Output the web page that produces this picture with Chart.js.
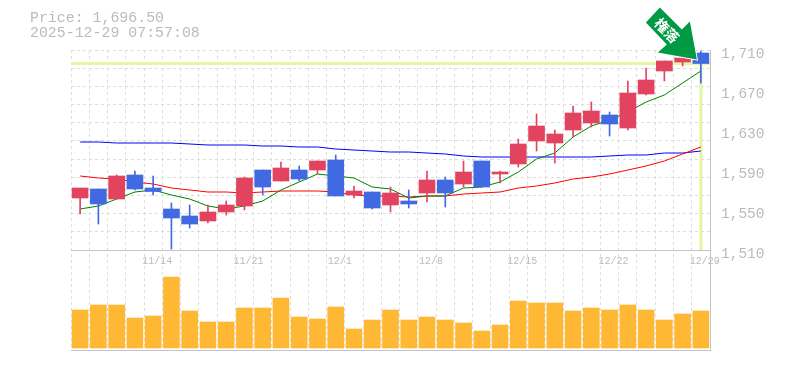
<!DOCTYPE html>
<html>
<head>
<meta charset="utf-8">
<script src="https://cdn.jsdelivr.net/npm/chart.js@4"></script>
<style>
    body { margin: 0; background: #fff; }
    #wrapper { position: relative; width: 785px; height: 370px; }
    #info { position: absolute; left: 30px; top: 11px; font: 14.9px/15px "Liberation Mono", monospace; color: #bbb; }
</style>
</head>
<body>
<div id="wrapper">
    <canvas id="myChart" width="785" height="370"></canvas>
    <div id="info">Price: 1,696.50<br>2025-12-29 07:57:08</div>
</div>
<script>
"use strict";

const categories = ["11/10", "11/11", "11/12", "11/13", "11/14", "11/17", "11/18", "11/19", "11/20", "11/21",
    "11/25", "11/26", "11/27", "11/28", "12/1", "12/2", "12/3", "12/4", "12/5", "12/8",
    "12/9", "12/10", "12/11", "12/12", "12/15", "12/16", "12/17", "12/18", "12/19", "12/22",
    "12/23", "12/24", "12/25", "12/26", "12/29"];
const dateTicks = ["11/14", "11/21", "12/1", "12/8", "12/15", "12/22", "12/29"];
const priceTicks = [1710, 1670, 1630, 1590, 1550, 1510];

const opens = [1562, 1571, 1561, 1585, 1572, 1551, 1544, 1539, 1548, 1554,
    1590, 1579, 1590, 1590, 1600, 1565, 1568, 1555, 1559, 1567,
    1580, 1576, 1599, 1586, 1596, 1619, 1617, 1630, 1637, 1645,
    1632, 1666, 1689, 1698, 1707];
const closes = [1572, 1556, 1584, 1571, 1568.5, 1542, 1536, 1548, 1555, 1582,
    1573, 1592, 1581, 1599, 1564, 1569, 1552, 1567, 1556, 1580,
    1567, 1588, 1573, 1588, 1616, 1634, 1626, 1647, 1649, 1636,
    1667, 1680, 1699, 1702, 1696.5];
const highs = [1572, 1571, 1585, 1589, 1584, 1557, 1555, 1555, 1559, 1583,
    1590, 1598, 1594, 1599, 1605, 1574, 1568, 1573, 1570, 1589,
    1583, 1599, 1599, 1589, 1621, 1646, 1630, 1654, 1658, 1648,
    1679, 1692, 1699, 1702, 1709];
const lows = [1546, 1536, 1561, 1570, 1565, 1511, 1532, 1537, 1545, 1550,
    1565, 1579, 1579, 1586, 1564, 1562, 1551, 1548, 1552, 1558,
    1553, 1573, 1573, 1577, 1593, 1609, 1597, 1623, 1633, 1624,
    1630, 1665, 1679, 1694, 1677];

const maShort = [1551, 1554, 1561, 1568, 1570, 1565, 1561, 1554, 1551, 1554,
    1559, 1570, 1578, 1586, 1584, 1582, 1573, 1571, 1562, 1564,
    1564, 1572, 1573, 1578, 1588, 1601, 1607, 1623, 1634, 1640,
    1648, 1658, 1665, 1677, 1689];
const maMiddle = [1584, 1582, 1581, 1578, 1576, 1572, 1570, 1568, 1568, 1567,
    1568, 1569, 1569, 1569, 1568, 1565, 1564, 1564, 1563, 1564,
    1564, 1566, 1567, 1568, 1572, 1574, 1577, 1581, 1583, 1586,
    1590, 1594, 1599, 1606, 1613];
const maLong = [1618, 1618, 1617, 1617, 1617, 1617, 1616, 1615, 1615, 1615,
    1614, 1614, 1613, 1613, 1611, 1610, 1609, 1608, 1608, 1607,
    1606, 1604, 1603, 1603, 1603, 1603, 1603, 1603, 1603, 1604,
    1605, 1605, 1607, 1607, 1609];

const volumes = [38, 43, 43, 30, 32, 71, 37, 26, 26, 40,
    40, 50, 31, 29, 41, 19, 28, 38, 28, 31,
    28, 25, 17, 23, 47, 45, 45, 37, 40, 38,
    43, 38, 28, 34, 37];

const currentPrice = 1696.5;
const arrowText = "権落";

const UP_COLOR = "#e24460";
const DOWN_COLOR = "#4169e1";
const TEXT_COLOR = "#bbbbbb";
const AXIS_COLOR = "#c4c4c4";
const GRID_COLOR = "#dddddd";
const MARK_COLOR = "#e4f5a4";

let candleColors = opens.map(function (open, i) {
    return closes[i] >= open ? UP_COLOR : DOWN_COLOR;
});

// 11 dashed rows between top and bottom, they do not line up with the price labels
let gridValues = [];
for (let i = 0; i <= 11; i++) {
    gridValues.push(1710 - i * 200 / 11);
}

let currentPriceLines = {
    id: "currentPriceLines",
    beforeDatasetsDraw: function (chart) {
        let ctx = chart.ctx;
        let area = chart.chartArea;
        let y = chart.scales.y.getPixelForValue(currentPrice);
        let x = chart.scales.x.getPixelForValue(categories.length - 1);
        ctx.save();
        ctx.strokeStyle = MARK_COLOR;
        ctx.lineWidth = 3;
        ctx.beginPath();
        ctx.moveTo(area.left, y);
        ctx.lineTo(area.right, y);
        ctx.moveTo(x, y);
        ctx.lineTo(x, chart.scales.y.bottom);
        ctx.stroke();
        ctx.restore();
    }
};

let arrowMark = {
    id: "arrowMark",
    afterDatasetsDraw: function (chart) {
        let ctx = chart.ctx;
        let tipX = chart.scales.x.getPixelForValue(categories.length - 1) - 4;
        let tipY = chart.scales.y.getPixelForValue(currentPrice) - 4;
        let shape = [[-37, -52], [-51, -37], [-30, -15], [-39, -7], [0, 0], [-7, -38], [-15, -30]];
        ctx.save();
        ctx.translate(tipX, tipY);
        ctx.beginPath();
        for (let i = 0; i < shape.length; i++) {
            ctx.lineTo(shape[i][0], shape[i][1]);
        }
        ctx.closePath();
        ctx.lineWidth = 2;
        ctx.strokeStyle = "#ffffff";
        ctx.stroke();
        ctx.fillStyle = "#009944";
        ctx.fill();
        ctx.translate(-30, -29);
        ctx.rotate(Math.PI / 4);
        ctx.font = "bold 14px 'Noto Sans CJK JP'";
        ctx.fillStyle = "#ffffff";
        ctx.textAlign = "center";
        ctx.textBaseline = "middle";
        ctx.fillText(arrowText, 0, 0);
        ctx.restore();
    }
};

let ctx = document.getElementById("myChart").getContext("2d");
let myChart = new Chart(ctx, {
    type: "bar",
    plugins: [currentPriceLines, arrowMark],
    data: {
        labels: categories,
        datasets: [
            { type: "line", data: maLong, borderColor: "#0000ff", borderWidth: 1, pointRadius: 0, yAxisID: "y", order: 5 },
            { type: "line", data: maMiddle, borderColor: "#ff0000", borderWidth: 1, pointRadius: 0, yAxisID: "y", order: 4 },
            { type: "line", data: maShort, borderColor: "#008000", borderWidth: 1, pointRadius: 0, yAxisID: "y", order: 3 },
            {
                data: lows.map(function (low, i) { return [low, highs[i]]; }),
                backgroundColor: candleColors, barThickness: 1, grouped: false, yAxisID: "y", order: 2
            },
            {
                data: opens.map(function (open, i) { return [open, closes[i]]; }),
                backgroundColor: candleColors, barThickness: 16, grouped: false, yAxisID: "y", order: 1
            },
            { data: volumes, backgroundColor: "#ffb833", barThickness: 16, grouped: false, yAxisID: "yVol", order: 1 }
        ]
    },
    options: {
        responsive: false,
        animation: false,
        devicePixelRatio: 1,
        layout: { padding: { left: 71, right: 0, top: 50, bottom: 20 } },
        plugins: { legend: { display: false }, tooltip: { enabled: false }, title: { display: false } },
        scales: {
            x: {
                position: { y: 1510 },
                grid: { color: GRID_COLOR, offset: true, drawTicks: false },
                border: { color: AXIS_COLOR, dash: [3, 3] },
                ticks: {
                    autoSkip: false,
                    maxRotation: 0,
                    padding: 5,
                    labelOffset: 4,
                    color: TEXT_COLOR,
                    font: { family: "'Liberation Mono', monospace", size: 10 },
                    callback: function (value) {
                        let label = this.getLabelForValue(value);
                        return dateTicks.includes(label) ? label : "";
                    }
                }
            },
            y: {
                position: "right",
                stack: "panels",
                stackWeight: 2,
                min: 1510,
                max: 1710,
                afterBuildTicks: function (axis) {
                    let values = gridValues.concat(priceTicks.slice(1, -1));
                    axis.ticks = values.map(function (v) { return { value: v }; });
                },
                afterFit: function (axis) { axis.width = 75; },
                grid: {
                    drawTicks: false,
                    color: function (context) {
                        return gridValues.includes(context.tick.value) ? GRID_COLOR : "rgba(0,0,0,0)";
                    }
                },
                border: { color: AXIS_COLOR, dash: [3, 3] },
                ticks: {
                    autoSkip: false,
                    padding: 11,
                    labelOffset: 4,
                    color: TEXT_COLOR,
                    font: { family: "'Liberation Mono', monospace", size: 14.5 },
                    callback: function (value) {
                        return priceTicks.includes(value) ? value.toLocaleString("en-US") : "";
                    }
                }
            },
            yVol: {
                position: "right",
                stack: "panels",
                stackWeight: 1,
                min: -2,
                max: 98,
                afterBuildTicks: function (axis) { axis.ticks = [{ value: -2 }]; },
                afterFit: function (axis) { axis.width = 75; },
                grid: { color: AXIS_COLOR, drawTicks: false },
                border: { color: AXIS_COLOR },
                ticks: { display: false }
            }
        }
    }
});
</script>
</body>
</html>
